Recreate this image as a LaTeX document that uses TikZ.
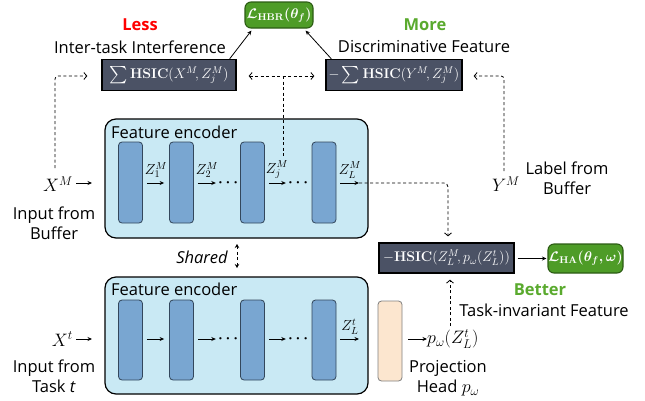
\RequirePackage{fix-cm}
\documentclass[tikz,border=0pt]{standalone}
\usepackage{amsmath}
\usepackage{graphicx}
\usepackage[no-math]{fontspec}
\setmainfont{Open Sans}
\usetikzlibrary{arrows.meta,calc}
\definecolor{slate}{HTML}{4B5265}
\definecolor{gfill}{HTML}{4E9C27}
\definecolor{gdraw}{HTML}{2C5C14}
\definecolor{gtext}{HTML}{5AAA2E}
\definecolor{encfill}{HTML}{C9E9F4}
\definecolor{layfill}{HTML}{79A6D1}
\definecolor{laydraw}{HTML}{33475C}
\definecolor{projfill}{HTML}{FCE6CF}
\newcommand{\bigsum}{\mathop{\vcenter{\hbox{\scalebox{1.2}{$\sum$}}}}}
\tikzset{
  txt/.style={font=\fontsize{16.5}{20}\selectfont, inner sep=0pt},
  bigm/.style={font=\fontsize{18}{20}\selectfont, inner sep=0pt},
  hsic/.style={draw=black, line width=1.3pt, fill=slate, text=white, inner sep=0pt, minimum height=31pt, font=\fontsize{14}{17}\selectfont},
  gbox/.style={draw=gdraw, line width=1.1pt, fill=gfill, text=white, rounded corners=6pt, inner sep=0pt, font=\fontsize{14}{17}\selectfont},
  enc/.style={draw=black, line width=1.2pt, fill=encfill, rounded corners=11pt, inner sep=0pt},
  layer/.style={draw=laydraw, line width=0.8pt, fill=layfill, rounded corners=3.5pt, minimum width=24pt, minimum height=81pt, inner sep=0pt},
  proj/.style={draw=gray, line width=0.8pt, fill=projfill, rounded corners=3.5pt, minimum width=24pt, minimum height=80pt, inner sep=0pt},
  arr/.style={line width=0.8pt, -{Stealth[length=4.5pt,width=4pt]}},
  dl/.style={line width=0.8pt, dash pattern=on 3pt off 2.5pt},
  ob/.style={-{Straight Barb[length=3pt,width=7pt,line width=0.8pt]}},
  zl/.style={font=\fontsize{14.5}{16}\selectfont, inner sep=0pt},
  dots/.style={font=\fontsize{15}{16}\selectfont, inner sep=0pt},
}
\begin{document}
\begin{tikzpicture}[x=1pt,y=-1pt]
\useasboundingbox (0,0) rectangle (645,400);

% top loss box
\node[gbox, minimum width=68pt, minimum height=26pt] (hbr) at (279,15) {$\boldsymbol{\mathcal{L}_{\mathbf{HBR}}(\theta_f)}$};

% HSIC boxes
\node[hsic, minimum width=134pt] (h1) at (169,75) {$\bigsum\mathbf{HSIC}(X^M\!, Z_j^M)$};
\node[hsic, minimum width=136pt] (h2) at (394,75) {$-\bigsum\mathbf{HSIC}(Y^M\!, Z_j^M)$};

\node[txt, text=red, font=\fontsize{16.5}{20}\selectfont\bfseries] (less) at (140,25) {Less};
\node[txt] (itf) at (140,47) {Inter-task Interference};
\node[txt, text=gtext, font=\fontsize{16.5}{20}\selectfont\bfseries] (more) at (425,25) {More};
\node[txt] (disc) at (424,47) {Discriminative Feature};

\draw[arr] ($(h1.north east)+(-7,0)$) -- ($(hbr.south west)+(7,2)$);
\draw[arr] ($(h2.north west)+(6,0)$) -- ($(hbr.south east)+(-8,2)$);

% top encoder
\node[enc, minimum width=263pt, minimum height=119pt] (encM) at (236.5,178.5) {};
\node[txt, anchor=west] (encMl) at (111,132) {Feature encoder};
\node[layer] (m1) at (130.5,182.5) {};
\node[layer] (m2) at (181.5,182.5) {};
\node[layer] (m3) at (252.5,182.5) {};
\node[layer] (m4) at (324,182.5) {};
\node[dots] (dm1) at (229.5,183) {$\boldsymbol{\cdots}$};
\node[dots] (dm2) at (299.5,183) {$\boldsymbol{\cdots}$};
\coordinate (zlmend) at (359,183);
\draw[arr] ($(m1.east)+(4,0.5)$) -- ($(m2.west)+(-5,0.5)$);
\draw[arr] ($(m2.east)+(4,0.5)$) -- ($(dm1.west)+(-2,0)$);
\draw[arr] ($(m3.east)+(4,0.5)$) -- ($(dm2.west)+(-2,0)$);
\draw[arr] ($(m4.east)+(4,0.5)$) -- (zlmend);
\node[zl] (z1) at (156,170) {$Z_1^M$};
\node[zl] (z2) at (207,170) {$Z_2^M$};
\node[zl] (zj) at (277,170) {$Z_j^M$};
\node[zl] (zL) at (350,170) {$Z_L^M$};

% input from buffer
\node[bigm, anchor=east] (xm) at (73,184) {$X^M$};
\coordinate (encMin) at (92,183);
\draw[arr] ($(xm.east)+(3,-1)$) -- (encMin);
\node[txt, align=center] (inbuf) at (54,223) {Input from\\Buffer};

% label from buffer
\node[bigm] (ym) at (506,184) {$Y^M$};
\node[txt, align=center] (lbuf) at (567,178) {Label from\\Buffer};

% dashed connectors to HSIC boxes
\coordinate (xmtop) at (55,168);
\draw[dl, ob, rounded corners=3pt] (xmtop) |- ($(h1.west)+(-14,1)$);
\draw[dl, {Straight Barb[length=3pt,width=7pt,line width=0.8pt]}-{Straight Barb[length=3pt,width=7pt,line width=0.8pt]}] ($(h1.east)+(12,1)$) -- ($(h2.west)+(-11,1)$);
\coordinate (jn) at (283,76);
\coordinate (zjtop) at (283,158);
\draw[dl] (jn) -- (zjtop);
\coordinate (ytop) at (504,171);
\draw[dl, ob, rounded corners=3pt] (ytop) |- ($(h2.east)+(11,1)$);

% shared
\node[txt, font=\fontsize{16.5}{20}\selectfont\itshape] (shared) at (202,257) {Shared};
\coordinate (shtop) at (237,244);
\coordinate (shbot) at (237,268);
\draw[dl, {Stealth[length=4pt,width=4.5pt]}-{Stealth[length=4pt,width=4.5pt]}] (shtop) -- (shbot);

% bottom encoder
\node[enc, minimum width=263pt, minimum height=117pt] (encT) at (236.5,335.5) {};
\node[txt, anchor=west] (encTl) at (111,289) {Feature encoder};
\node[layer, minimum height=80pt] (t1) at (130.5,340) {};
\node[layer, minimum height=80pt] (t2) at (181.5,340) {};
\node[layer, minimum height=80pt] (t3) at (252.5,340) {};
\node[layer, minimum height=80pt] (t4) at (324,340) {};
\node[dots] (dt1) at (229.5,339) {$\boldsymbol{\cdots}$};
\node[dots] (dt2) at (299.5,339) {$\boldsymbol{\cdots}$};
\draw[arr] ($(t1.east)+(4,-1)$) -- ($(t2.west)+(-5,-1)$);
\draw[arr] ($(t2.east)+(4,-1)$) -- ($(dt1.west)+(-2,0)$);
\draw[arr] ($(t3.east)+(4,-1)$) -- ($(dt2.west)+(-2,0)$);
\coordinate (zltend) at (359,339);
\draw[arr] ($(t4.east)+(4,-1)$) -- (zltend);
\node[zl] (zLt) at (350,327) {$Z_L^t$};

\node[bigm, anchor=east] (xt) at (73,339) {$X^t$};
\coordinate (encTin) at (92,339);
\draw[arr] ($(xt.east)+(3,0)$) -- (encTin);
\node[txt, align=center] (intask) at (54,376) {Input from\\Task \textit{t}};

% projection head
\node[proj] (ph) at (390,341) {};
\node[bigm, anchor=west] (pw) at (427,339) {$p_\omega(Z_L^t)$};
\draw[arr] ($(ph.east)+(6,-2)$) -- (pw.west);
\node[txt, align=center] (phl) at (448,378) {Projection\\Head {\fontsize{18}{20}\selectfont$p_\omega$}};

% HA loss
\node[hsic, minimum width=135pt, minimum height=30pt] (h3) at (446.5,258) {$-\mathbf{HSIC}(Z_L^M\!, p_\omega(Z_L^t))$};
\node[gbox, minimum width=75pt, minimum height=29pt] (ha) at (585.5,258.5) {$\boldsymbol{\mathcal{L}_{\mathbf{HA}}(\theta_f,\omega)}$};
\draw[arr] ($(h3.east)+(3,0.5)$) -- ($(ha.west)+(-1,0)$);
\draw[dl, ob, rounded corners=4pt] (zlmend) -| ($(h3.north)+(1.5,-6)$);
\coordinate (pwtop) at (450,326);
\draw[dl, ob] (pwtop) -- ($(h3.south)+(3.5,6)$);
\node[txt, text=gtext, font=\fontsize{16.5}{20}\selectfont\bfseries] (better) at (540,290) {Better};
\node[txt] (tif) at (544,310) {Task-invariant Feature};
\end{tikzpicture}
\end{document}
